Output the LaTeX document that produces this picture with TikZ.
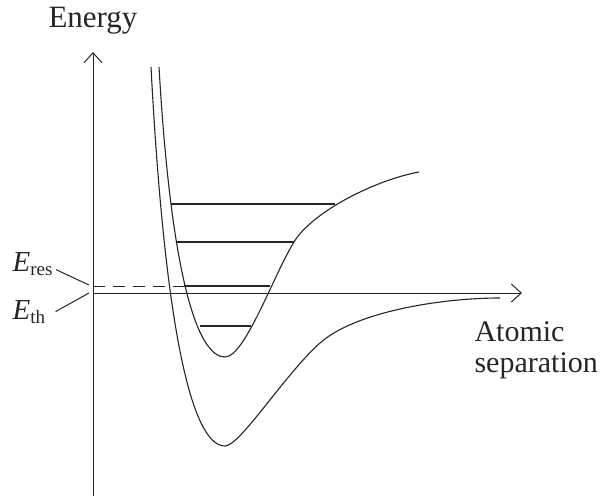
\documentclass[tikz,border=0pt]{standalone}
\usepackage{fontspec}
\setmainfont{Liberation Serif}
\usetikzlibrary{arrows.meta}
\newcommand{\elabel}[1]{\textit{E}\raisebox{-4pt}{\fontsize{19}{19}\selectfont #1}}
\begin{document}
\begin{tikzpicture}[x=1pt, y=-1pt, line width=1.1pt, black!85,
  axis/.style={line width=1pt, -{Straight Barb[length=10pt, width=18pt]}},
  level/.style={line width=2.5pt},
  lbl/.style={font=\fontsize{30}{31}\selectfont, inner sep=0pt}]
  \useasboundingbox (0,0) rectangle (608,496);
  \coordinate (o) at (93,293);
  \coordinate (top) at (93,52);
  \coordinate (bot) at (93,496);
  \coordinate (right) at (522,293);
  \coordinate (res) at (93,286);
  \coordinate (reslevel) at (184,286);
  \coordinate (resfoot) at (89,285);
  \coordinate (thfoot) at (89,293);
  \draw[axis] (bot) -- (top);
  \draw[axis] (o) -- (right);
  \draw[line width=1pt, dash pattern=on 12pt off 8pt] (res) -- (reslevel);
  \foreach \y/\a/\b in {204/171/335, 242/176/294, 286/184/270, 326/200/251}
    \draw[level] (\a,\y) -- (\b,\y);
  \draw (159,67) .. controls (172,290) and (200,357) .. (225,357)
    .. controls (245,357) and (274,274) .. (294,242)
    .. controls (312,212) and (375,180) .. (419,172);
  \draw (151,67) .. controls (166,350) and (195,446) .. (225,446)
    .. controls (240,446) and (285,374) .. (320,343)
    .. controls (355,312) and (440,298) .. (500,298);
  \node[lbl, font=\fontsize{31}{31}\selectfont, anchor=base] (energy) at (93,27) {Energy};
  \node[lbl, anchor=north west, align=left] (sep) at (474,321) {Atomic\\separation};
  \node[lbl, font=\fontsize{29}{31}\selectfont, anchor=base west] (eres) at (12,271) {\elabel{res}};
  \node[lbl, font=\fontsize{29}{31}\selectfont, anchor=base west] (eth) at (12,319) {\elabel{th}};
  \draw[line width=1pt] ([shift={(3,6)}]eres.east) -- (resfoot);
  \draw[line width=1pt] ([shift={(10,0)}]eth.east) -- (thfoot);
\end{tikzpicture}
\end{document}
